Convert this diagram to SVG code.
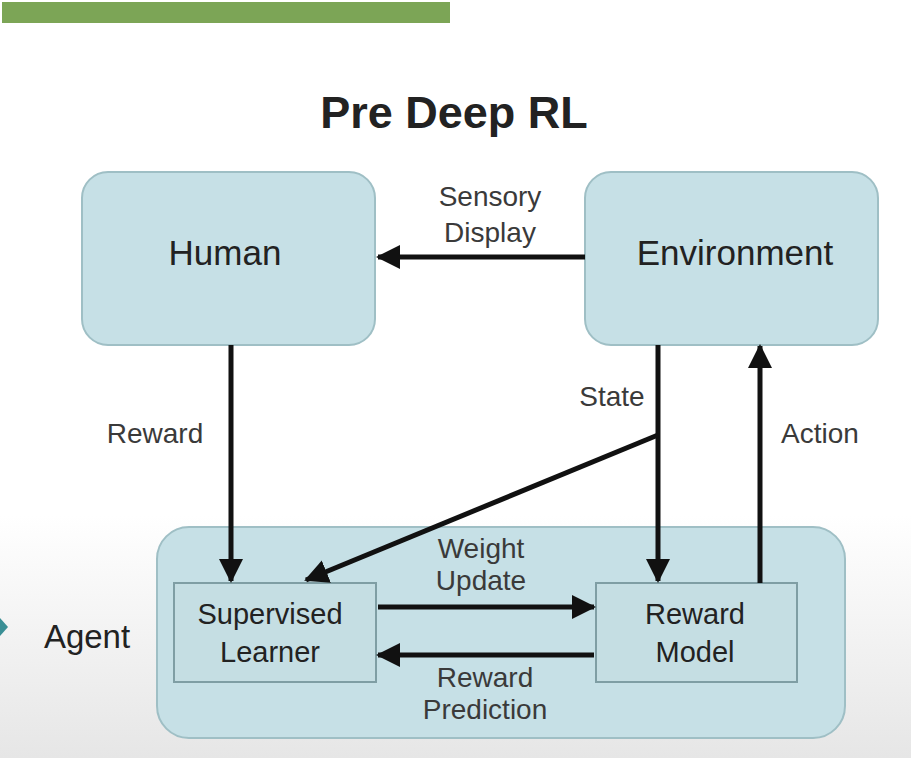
<svg xmlns="http://www.w3.org/2000/svg" width="911" height="758" viewBox="0 0 911 758">
<defs>
<linearGradient id="bg" x1="0" y1="0" x2="0" y2="1">
<stop offset="0" stop-color="#ffffff"/>
<stop offset="0.68" stop-color="#ffffff"/>
<stop offset="1" stop-color="#e6e6e6"/>
</linearGradient>
<marker id="ah" markerUnits="userSpaceOnUse" markerWidth="26" markerHeight="26" refX="22" refY="12" orient="auto">
<path d="M0,0 L24,12 L0,24 Z" fill="#111"/>
</marker>
<style>
.box{fill:#c6e0e6;stroke:#9fbfc5;stroke-width:2}
.inner{fill:#c5dee3;stroke:#7f9ea4;stroke-width:2}
.t{font-family:"Liberation Sans",Arial,sans-serif;fill:#222;text-anchor:middle}
.lbl{font-family:"Liberation Sans",Arial,sans-serif;fill:#3a3a3a;text-anchor:middle;font-size:28px}
.conn{stroke:#111;stroke-width:5;fill:none}
</style>
</defs>
<rect width="911" height="758" fill="url(#bg)"/>
<rect x="2" y="2" width="448" height="21" fill="#7ca556"/>
<polygon points="0,618 8,627 0,636" fill="#3a8f95"/>
<text class="t" x="454" y="128" font-size="45" font-weight="bold">Pre Deep RL</text>

<g id="agent">
<rect class="box" x="157" y="527" width="688" height="211" rx="32"/>
<text class="t" x="87" y="648" font-size="33">Agent</text>
</g>
<g id="human">
<rect class="box" x="82" y="172" width="293" height="173" rx="26"/>
<text class="t" x="225" y="265" font-size="35">Human</text>
</g>
<g id="environment">
<rect class="box" x="585" y="172" width="293" height="173" rx="26"/>
<text class="t" x="735" y="265" font-size="35">Environment</text>
</g>
<g id="supervised-learner">
<rect class="inner" x="174" y="583" width="202" height="99"/>
<text class="t" x="270" y="624" font-size="29">Supervised</text>
<text class="t" x="270" y="662" font-size="29">Learner</text>
</g>
<g id="reward-model">
<rect class="inner" x="596" y="583" width="201" height="99"/>
<text class="t" x="695" y="624" font-size="29">Reward</text>
<text class="t" x="695" y="662" font-size="29">Model</text>
</g>

<g id="connectors">
<line class="conn" x1="585" y1="257" x2="378" y2="257" marker-end="url(#ah)"/>
<line class="conn" x1="231" y1="345" x2="231" y2="581" marker-end="url(#ah)"/>
<line class="conn" x1="658" y1="345" x2="658" y2="581" marker-end="url(#ah)"/>
<line class="conn" x1="658" y1="435" x2="306" y2="580" stroke-width="4" marker-end="url(#ah)"/>
<line class="conn" x1="760" y1="583" x2="760" y2="346" marker-end="url(#ah)"/>
<line class="conn" x1="378" y1="607" x2="594" y2="607" marker-end="url(#ah)"/>
<line class="conn" x1="594" y1="655" x2="378" y2="655" marker-end="url(#ah)"/>
<text class="lbl" x="490" y="206">Sensory</text>
<text class="lbl" x="490" y="242">Display</text>
<text class="lbl" x="155" y="443">Reward</text>
<text class="lbl" x="612" y="406">State</text>
<text class="lbl" x="820" y="443">Action</text>
<text class="lbl" x="481" y="558">Weight</text>
<text class="lbl" x="481" y="590">Update</text>
<text class="lbl" x="485" y="687">Reward</text>
<text class="lbl" x="485" y="719">Prediction</text>
</g>
</svg>
